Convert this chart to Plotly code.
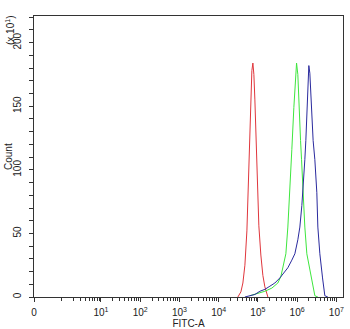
import plotly.graph_objects as go

# FITC-A intensity (x) and event counts in units of x10^1 (y)
red_x = [30900, 36900, 41500, 46700, 52500, 55600, 59000, 62500, 66400, 70300, 74600,
         79100, 83900, 88900, 94400, 100000, 105900, 119100, 134000, 150700, 179900]
red_y = [0, 4, 11, 25, 52, 76, 108, 139, 159, 178, 184,
         175, 155, 131, 100, 76, 56, 33, 17, 8, 0]

green_x = [62500, 100000, 150700, 227000, 323000, 385000, 433000, 517000, 581000, 653000,
           734000, 826000, 928000, 968000, 1044000, 1109000, 1225000, 1298000, 1401000,
           1575000, 1771000, 2113000, 2376000, 2834000, 3380000]
green_y = [1, 3, 4.5, 7, 11, 16, 23, 34, 55, 82,
           116, 149, 176, 184, 175, 149, 123, 108, 82,
           55, 34, 21, 15, 1, 0]

blue_x = [46700, 62500, 83900, 112500, 150700, 202300, 271000, 363700, 459500, 581000,
          734000, 877000, 1044000, 1175000, 1321000, 1401000, 1575000, 1670000, 1803000,
          1935000, 1992000, 2113000, 2335000, 2564000, 2834000, 3186000, 3380000, 3800000,
          4450000, 5090000, 6070000]
blue_y = [0, 1, 2, 4.5, 6, 8.5, 11, 15, 19, 23,
          29, 34, 45, 55, 72, 82, 108, 123, 149,
          176, 182, 176, 149, 123, 108, 82, 55, 34,
          15, 1, 0]

x_tick_vals = [10 ** -0.707, 10, 100, 1000, 10000, 100000, 1000000, 10000000]
x_tick_text = ["0", "10<sup>1</sup>", "10<sup>2</sup>", "10<sup>3</sup>", "10<sup>4</sup>",
               "10<sup>5</sup>", "10<sup>6</sup>", "10<sup>7</sup>"]
y_tick_vals = [0, 50, 100, 150, 200]
y_tick_text = ["0", "50", "100", "150", "200"]

x_minor = [1] + [k * 10 ** d for d in range(0, 7) for k in range(2, 10)]

fig = go.Figure()
fig.add_trace(go.Scatter(x=red_x, y=red_y, mode="lines",
                         line=dict(color="#e0363c", width=1)))
fig.add_trace(go.Scatter(x=green_x, y=green_y, mode="lines",
                         line=dict(color="#3ee63e", width=1)))
fig.add_trace(go.Scatter(x=blue_x, y=blue_y, mode="lines",
                         line=dict(color="#2a2a9e", width=1)))

axis_font = dict(family="Liberation Sans, Arial, sans-serif", size=10, color="#222")

fig.update_layout(
    width=350, height=329,
    margin=dict(l=34, r=7, t=16, b=32, autoexpand=False),
    paper_bgcolor="white", plot_bgcolor="white",
    showlegend=False,
    font=axis_font,
    xaxis=dict(
        type="log", range=[-0.707, 7.17], automargin=False,
        tickmode="array", tickvals=x_tick_vals, ticktext=x_tick_text,
        ticks="outside", ticklen=4, tickwidth=1, tickcolor="#333",
        ticklabelstandoff=2,
        showline=True, linecolor="#333", linewidth=1, mirror=True,
        showgrid=False, zeroline=False,
        tickfont=dict(size=10),
        minor=dict(tickmode="array", tickvals=x_minor, ticks="outside",
                   ticklen=3, tickwidth=1, tickcolor="#333", showgrid=False),
        title=dict(text="FITC-A", font=dict(size=10), standoff=3),
    ),
    yaxis=dict(
        range=[0, 221], automargin=False,
        tickmode="array", tickvals=y_tick_vals, ticktext=y_tick_text,
        tickangle=-90,
        ticks="outside", ticklen=4, tickwidth=1, tickcolor="#333",
        ticklabelstandoff=4,
        showline=True, linecolor="#333", linewidth=1, mirror=True,
        showgrid=False, zeroline=False,
        tickfont=dict(size=10),
        minor=dict(dtick=10, ticks="outside", ticklen=4, tickwidth=1,
                   tickcolor="#333", showgrid=False),
    ),
)

fig.add_annotation(
    text="Count", textangle=-90,
    xref="paper", yref="paper", x=0, y=0.5,
    xanchor="center", yanchor="middle",
    xshift=-25.5, yshift=0, showarrow=False,
    font=dict(size=10, color="#222"),
)
fig.add_annotation(
    text="(x 10<sup>1</sup>)", textangle=-90,
    xref="paper", yref="paper", x=0, y=1,
    xanchor="center", yanchor="middle",
    xshift=-24, yshift=-15, showarrow=False,
    font=dict(size=10, color="#222"),
)

fig.write_html("out.html")
